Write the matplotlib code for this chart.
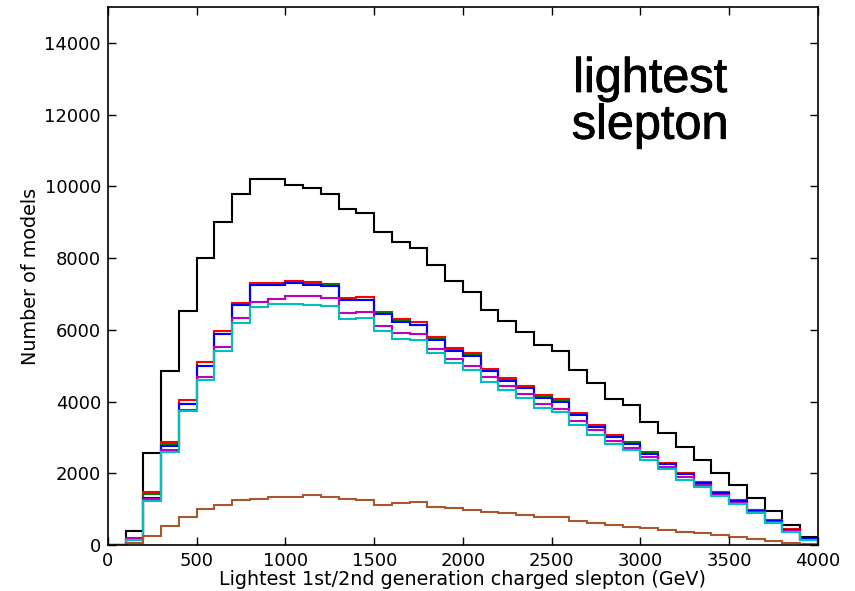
import numpy as np
import matplotlib.pyplot as plt
import matplotlib.patheffects as pe

# 100 GeV bins from 0 to 4000 GeV
edges = np.arange(0, 4100, 100)

counts_black = [0, 390, 2570, 4840, 6530, 7990, 9020, 9780, 10200, 10200,
                10050, 9950, 9800, 9360, 9250, 8740, 8460, 8290, 7800, 7375,
                7060, 6560, 6260, 5930, 5590, 5400, 4870, 4520, 4080, 3900,
                3430, 3125, 2740, 2370, 1995, 1660, 1300, 940, 550, 215]
counts_red = [0, 190, 1465, 2880, 4035, 5090, 5980, 6760, 7311, 7311,
              7375, 7330, 7283, 6884, 6910, 6500, 6300, 6210, 5800, 5490,
              5350, 4910, 4650, 4440, 4175, 4060, 3690, 3340, 3061, 2860,
              2590, 2290, 2010, 1770, 1490, 1250, 990, 710, 440, 170]
counts_green = [0, 180, 1410, 2810, 3945, 5005, 5895, 6695, 7258, 7262,
                7312, 7276, 7248, 6830, 6832, 6462, 6242, 6142, 5732, 5432,
                5292, 4852, 4592, 4392, 4122, 4012, 3642, 3302, 3027, 2841,
                2563, 2266, 1988, 1747, 1468, 1227, 967, 689, 429, 162]
counts_blue = [0, 170, 1300, 2765, 3925, 4990, 5880, 6680, 7245, 7250,
               7300, 7264, 7236, 6819, 6820, 6450, 6230, 6130, 5720, 5420,
               5280, 4840, 4580, 4380, 4110, 4000, 3630, 3290, 3015, 2829,
               2551, 2254, 1976, 1735, 1456, 1215, 955, 677, 417, 158]
counts_magenta = [0, 160, 1270, 2660, 3770, 4680, 5510, 6340, 6790, 6866,
                  6930, 6930, 6893, 6466, 6494, 6104, 5909, 5872, 5464, 5186,
                  5000, 4685, 4434, 4221, 3943, 3804, 3470, 3200, 2910, 2715,
                  2458, 2170, 1890, 1670, 1400, 1170, 910, 630, 390, 148]
counts_cyan = [0, 130, 1235, 2590, 3740, 4590, 5410, 6190, 6633, 6726,
               6726, 6698, 6660, 6309, 6337, 5965, 5752, 5705, 5353, 5074,
               4870, 4555, 4314, 4091, 3831, 3711, 3358, 3080, 2830, 2644,
               2384, 2106, 1827, 1623, 1364, 1141, 881, 603, 371, 139]
counts_brown = [0, 46, 260, 538, 788, 1002, 1113, 1252, 1271, 1345,
                1345, 1392, 1345, 1271, 1252, 1113, 1160, 1206, 1067, 1020,
                974, 928, 881, 835, 788, 770, 668, 622, 557, 510,
                464, 417, 371, 325, 278, 213, 158, 121, 65, 28]

series = [
    (counts_black, 'k'),
    (counts_red, 'r'),
    (counts_green, 'g'),
    (counts_blue, 'b'),
    (counts_magenta, 'm'),
    (counts_cyan, 'c'),
    (counts_brown, '#a8582a'),
]

fig = plt.figure(figsize=(8.55, 5.91), dpi=100)
ax = fig.add_axes([0.1263, 0.0778, 0.8304, 0.9102])

for vals, col in series:
    ax.stairs(vals, edges, color=col, linewidth=1.5, baseline=0)

ax.set_xlim(0, 4000)
ax.set_ylim(0, 15000)
ax.set_xticks(np.arange(0, 4001, 500))
ax.set_yticks(np.arange(0, 14001, 2000))
ax.tick_params(direction='in', top=True, right=True, length=6, width=1,
               labelsize=13, pad=5)
for s in ax.spines.values():
    s.set_linewidth(1.2)

ax.set_xlabel('Lightest 1st/2nd generation charged slepton (GeV)', fontsize=13.8, labelpad=0)
ax.set_ylabel('Number of models', fontsize=13.8, labelpad=3)

ax.text(3054, 12330, 'lightest\nslepton', ha='center', va='center',
        fontsize=35, family='Liberation Sans', linespacing=1.05,
        path_effects=[pe.withStroke(linewidth=0.6, foreground='black')])

fig.savefig('out.png', dpi=100)
